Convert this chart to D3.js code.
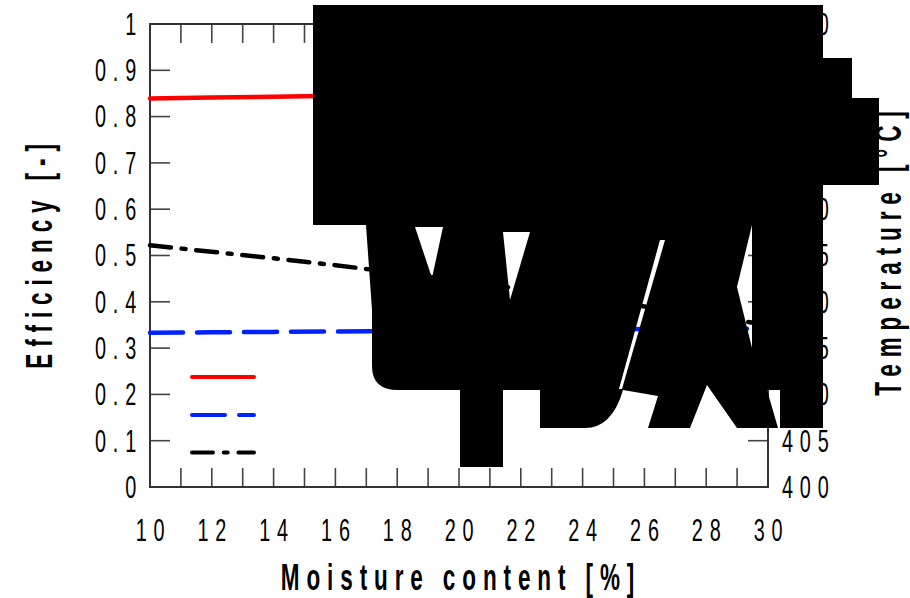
<!DOCTYPE html>
<html><head><meta charset="utf-8">
<script src="https://cdn.jsdelivr.net/npm/d3@7"></script>
<style>body{margin:0;background:#fff}svg{display:block}</style>
</head><body>
<svg id="c" width="910" height="598"></svg>
<script>
// ---- data ----
const moisture = [10, 12, 14, 16, 18, 20, 22, 24, 26, 28, 30];
const effRed   = [0.839, 0.841, 0.843, 0.845, 0.846, 0.848, 0.849, 0.851, 0.852, 0.853, 0.855];
const effBlue  = [0.333, 0.334, 0.335, 0.336, 0.337, 0.338, 0.339, 0.340, 0.341, 0.341, 0.342];
const effBlack = [0.522, 0.508, 0.494, 0.479, 0.463, 0.446, 0.428, 0.410, 0.390, 0.370, 0.350];
const xTickLabels = [10, 12, 14, 16, 18, 20, 22, 24, 26, 28, 30];
const yTickLabels = ["0", "0.1", "0.2", "0.3", "0.4", "0.5", "0.6", "0.7", "0.8", "0.9", "1"];
const yRTickLabels = [400, 405, 410, 415, 420, 425, 430, 435, 440, 445, 450];

const svg = d3.select("#c");
const x = d3.scaleLinear([10, 30], [150, 768]);
const y = d3.scaleLinear([0, 1], [487, 24]);
const yR = d3.scaleLinear([400, 450], [487, 24]);
const SX = 0.62;
const FONT = "Liberation Sans, Arial, sans-serif";

// frame ticks
const g = svg.append("g").attr("stroke", "#444").attr("stroke-width", 1.6);
d3.range(11, 30, 1).forEach(v => {
  g.append("line").attr("x1", x(v)).attr("x2", x(v)).attr("y1", y(0)).attr("y2", y(0) - 19);
  g.append("line").attr("x1", x(v)).attr("x2", x(v)).attr("y1", y(1)).attr("y2", y(1) + 19);
});
yTickLabels.forEach(t => {
  g.append("line").attr("x1", x(10)).attr("x2", x(10) + 20).attr("y1", y(+t)).attr("y2", y(+t));
});
yRTickLabels.forEach(v => {
  g.append("line").attr("x1", x(30)).attr("x2", x(30) - 20).attr("y1", yR(v)).attr("y2", yR(v));
});
svg.append("rect").attr("x", x(10)).attr("y", y(1)).attr("width", x(30) - x(10)).attr("height", y(0) - y(1))
  .attr("fill", "none").attr("stroke", "#333").attr("stroke-width", 2);

function label(px, py, txt, opts) {
  const o = Object.assign({size: 32, ls: 11, anchor: "middle", weight: "normal", rot: 0, base: "auto", sx: SX}, opts);
  return svg.append("text")
    .attr("transform", `translate(${px},${py}) rotate(${o.rot}) scale(${o.sx},1)`)
    .attr("text-anchor", o.anchor)
    .attr("dominant-baseline", o.base)
    .attr("font-family", FONT).attr("font-size", o.size).attr("font-weight", o.weight)
    .attr("letter-spacing", o.ls).attr("fill", "#000").text(txt);
}
xTickLabels.forEach(v => label(x(v) + 3.5, 541, String(v)));
yTickLabels.forEach(t => label(143, y(+t), t, {anchor: "end", base: "central"}));
yRTickLabels.forEach(v => label(782, yR(v), String(v), {anchor: "start", base: "central"}));

label(461, 590, "Moisture content [%]", {size: 37.5, ls: 11.5, weight: "bold", sx: 0.6});
label(52, 253, "Efficiency [-]", {size: 37.5, ls: 11.5, weight: "bold", rot: -90, sx: 0.6});
label(901, 250, "Temperature [°C]", {size: 37.5, ls: 11.5, weight: "bold", rot: -90, sx: 0.6});

// series
const line = d3.line().x((d, i) => x(moisture[i])).y(d => y(d));
const series = [
  {vals: effRed, color: "#ff0000", dash: null},
  {vals: effBlue, color: "#0022ff", dash: "33,14"},
  {vals: effBlack, color: "#000000", dash: "21,10.7,4,10.7"}
];
series.forEach((s, i) => {
  svg.append("path").attr("d", line(s.vals)).attr("fill", "none")
    .attr("stroke", s.color).attr("stroke-width", 4.5).attr("stroke-linecap", "round")
    .attr("stroke-dasharray", s.dash);
  const ly = [377, 415, 452.5][i];
  svg.append("line").attr("x1", 192).attr("x2", 254).attr("y1", ly).attr("y2", ly)
    .attr("stroke", s.color).attr("stroke-width", 4).attr("stroke-linecap", "round")
    .attr("stroke-dasharray", s.dash);
});

// garbled (over-sized) legend label block, drawn on top
svg.append("path").attr("fill", "#000").attr("fill-rule", "evenodd").attr("d",
  "M313,5 H823 V58 H852 V98 H879 V185 H823 V428 H780 V390 H767 L778,428 H737 L707,385 L690,428 H648 " +
  "L658,396 L623,390 Q612,428 585,428 H540 V390 H503 V467 H460 V390 H398 " +
  "Q372,390 372,366 V310 L366,225 H313 Z " +
  "M660,240 L665,240 L622,389 L619,389 Z " +
  "M737,287 L752,225 L752,348 Z M415,227 L443,227 L432,278 Z M503,232 L530,232 L510,300 Z");
</script>
</body></html>
